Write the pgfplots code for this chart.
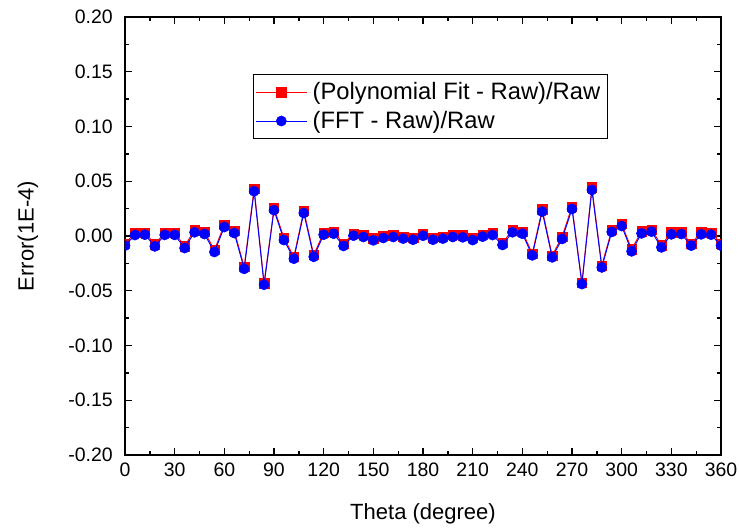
\documentclass[border=0pt]{standalone}
\usepackage{pgfplots}
\pgfplotsset{compat=1.18}
\usepackage{fontspec}
\setmainfont{Liberation Sans}
\begin{document}
\begin{tikzpicture}
\begin{axis}[
  name=ax,
  scale only axis,
  width=447pt, height=328.5pt,
  xmin=0, xmax=360, ymin=-0.2, ymax=0.2,
  xtick={0,30,...,360},
  ytick={-0.2,-0.15,-0.1,-0.05,0,0.05,0.1,0.15,0.2},
  minor x tick num=1, minor y tick num=1,
  tick align=inside,
  major tick length=5.25pt, minor tick length=3pt,
  every tick/.style={black, line width=1pt},
  axis line style={line width=1.2pt},
  /pgf/number format/assume math mode=true,
  yticklabel style={/pgf/number format/fixed, /pgf/number format/fixed zerofill, /pgf/number format/precision=2, inner sep=0pt, xshift=-9pt},
  xticklabel style={inner sep=0pt, anchor=north, yshift=-6pt},
  ticklabel style={font=\fontsize{14.6}{17}\selectfont},
  scaled y ticks=false,
  xlabel={Theta (degree)}, ylabel={Error(1E-4)},
  every axis x label/.style={at={(axis description cs:0.5,0)}, anchor=north, inner sep=0pt, yshift=-36pt, font=\fontsize{16.5}{19}\selectfont},
  every axis y label/.style={at={(axis description cs:0,0.5)}, rotate=90, anchor=center, inner sep=0pt, yshift=72.75pt, font=\fontsize{16.5}{19}\selectfont},
  clip marker paths=true,
  legend cell align=left,
  legend style={at={(axis description cs:0.2148,0.8699)}, anchor=north west, draw=black, line width=0.75pt,
    font=\fontsize{17.8}{21}\selectfont, inner xsep=1.5pt, inner ysep=2.5pt,
    nodes={inner ysep=3.6pt, inner xsep=4.2pt}},
  legend image code/.code={\draw[mark repeat=2, mark phase=2, #1] plot coordinates {(0pt,0pt) (19pt,0pt) (38pt,0pt)};},
]
\addplot[color=red, line width=0.7pt, mark=square*, mark size=3.5pt, mark options={solid, fill=red, draw=red, line width=0.3pt}] coordinates {
(0,-0.0070) (6,0.0029) (12,0.0032) (18,-0.0075) (24,0.0030) (30,0.0030)
(36,-0.0092) (42,0.0054) (48,0.0038) (54,-0.0128) (60,0.0102) (66,0.0047)
(72,-0.0283) (78,0.0435) (84,-0.0430) (90,0.0256) (96,-0.0017) (102,-0.0190)
(108,0.0232) (114,-0.0173) (120,0.0032) (126,0.0041) (132,-0.0071) (138,0.0023)
(144,0.0011) (150,-0.0020) (156,0.0002) (162,0.0011) (168,-0.0004) (174,-0.0014)
(180,0.0022) (186,-0.0014) (192,-0.0004) (198,0.0011) (204,0.0008) (210,-0.0017)
(216,0.0014) (222,0.0029) (228,-0.0062) (234,0.0054) (240,0.0041) (246,-0.0160)
(252,0.0245) (258,-0.0178) (264,-0.0007) (270,0.0269) (276,-0.0424) (282,0.0445)
(288,-0.0270) (294,0.0057) (300,0.0111) (306,-0.0122) (312,0.0044) (318,0.0060)
(324,-0.0085) (330,0.0035) (336,0.0038) (342,-0.0070) (348,0.0035) (354,0.0032)
(360,-0.0070)
};
\addlegendentry{(Polynomial Fit - Raw)/Raw}
\addplot[color=blue, line width=0.7pt, mark=*, mark size=3.8pt, mark options={solid, fill=blue, draw=blue, line width=0.4pt}] coordinates {
(0,-0.0088) (6,0.0009) (12,0.0012) (18,-0.0095) (24,0.0010) (30,0.0010)
(36,-0.0110) (42,0.0034) (48,0.0018) (54,-0.0146) (60,0.0082) (66,0.0027)
(72,-0.0300) (78,0.0409) (84,-0.0445) (90,0.0236) (96,-0.0037) (102,-0.0207)
(108,0.0210) (114,-0.0190) (120,0.0012) (126,0.0021) (132,-0.0091) (138,0.0003)
(144,-0.0009) (150,-0.0040) (156,-0.0018) (162,-0.0009) (168,-0.0024) (174,-0.0034)
(180,0.0002) (186,-0.0034) (192,-0.0024) (198,-0.0009) (204,-0.0012) (210,-0.0037)
(216,-0.0006) (222,0.0009) (228,-0.0082) (234,0.0034) (240,0.0021) (246,-0.0177)
(252,0.0223) (258,-0.0195) (264,-0.0027) (270,0.0247) (276,-0.0439) (282,0.0421)
(288,-0.0287) (294,0.0037) (300,0.0091) (306,-0.0140) (312,0.0024) (318,0.0040)
(324,-0.0104) (330,0.0015) (336,0.0018) (342,-0.0088) (348,0.0015) (354,0.0012)
(360,-0.0088)
};
\addlegendentry{(FFT - Raw)/Raw}
\coordinate (bl) at (rel axis cs:0,0);
\coordinate (tr) at (rel axis cs:1,1);
\end{axis}
\pgfresetboundingbox
\path ([shift={(-93.75pt,-55.5pt)}]bl) rectangle ([shift={(13.5pt,12.75pt)}]tr);
\end{tikzpicture}
\end{document}
